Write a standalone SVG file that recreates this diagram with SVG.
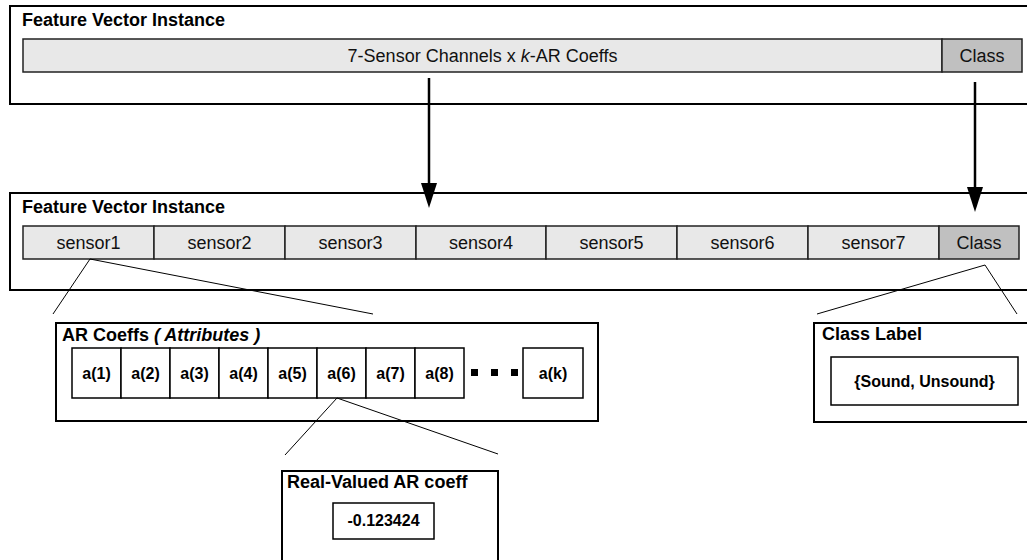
<svg xmlns="http://www.w3.org/2000/svg" width="1027" height="560" viewBox="0 0 1027 560">
<style>
.frame{fill:#fff;stroke:#000;stroke-width:2}
.bar{fill:#e8e8e8;stroke:#222;stroke-width:1.5}
.cls{fill:#c0c0c0;stroke:#222;stroke-width:1.5}
.cell{fill:#fff;stroke:#000;stroke-width:1.5}
.title{font-family:"Liberation Sans",Arial,sans-serif;font-size:18px;font-weight:bold;fill:#000}
.lbl{font-family:"Liberation Sans",Arial,sans-serif;font-size:18px;fill:#111;text-anchor:middle}
.blbl{font-family:"Liberation Sans",Arial,sans-serif;font-size:16px;font-weight:bold;fill:#000;text-anchor:middle}
.thin{stroke:#000;stroke-width:1;fill:none}
.arrow{stroke:#000;stroke-width:2.5;fill:none;marker-end:url(#head)}
</style>
<defs>
<marker id="head" viewBox="0 0 25 16" refX="0" refY="8" markerWidth="25" markerHeight="16" markerUnits="userSpaceOnUse" orient="auto">
<path d="M0,0 L25,8 L0,16 Z" fill="#000"/>
</marker>
</defs>

<g id="top-instance">
<rect class="frame" x="10" y="6" width="1030" height="98"/>
<text class="title" x="22" y="26">Feature Vector Instance</text>
<rect class="bar" x="23" y="39" width="919" height="33"/>
<text class="lbl" x="482.5" y="62">7-Sensor Channels x <tspan font-style="italic">k</tspan>-AR Coeffs</text>
<rect class="cls" x="942" y="39" width="80" height="33"/>
<text class="lbl" x="982" y="62">Class</text>
</g>

<g id="bottom-instance">
<rect class="frame" x="10" y="193" width="1030" height="97"/>
<text class="title" x="22" y="213">Feature Vector Instance</text>
<rect class="bar" x="23" y="226" width="131" height="33"/>
<text class="lbl" x="88.5" y="249">sensor1</text>
<rect class="bar" x="154" y="226" width="131" height="33"/>
<text class="lbl" x="219.5" y="249">sensor2</text>
<rect class="bar" x="285" y="226" width="131" height="33"/>
<text class="lbl" x="350.5" y="249">sensor3</text>
<rect class="bar" x="416" y="226" width="130" height="33"/>
<text class="lbl" x="481" y="249">sensor4</text>
<rect class="bar" x="546" y="226" width="131" height="33"/>
<text class="lbl" x="611.5" y="249">sensor5</text>
<rect class="bar" x="677" y="226" width="131" height="33"/>
<text class="lbl" x="742.5" y="249">sensor6</text>
<rect class="bar" x="808" y="226" width="131" height="33"/>
<text class="lbl" x="873.5" y="249">sensor7</text>
<rect class="cls" x="939" y="226" width="80" height="33"/>
<text class="lbl" x="979" y="249">Class</text>
</g>

<g id="ar-coeffs">
<rect class="frame" x="56" y="323" width="542" height="98"/>
<text class="title" x="62" y="341">AR Coeffs <tspan font-style="italic">( Attributes )</tspan></text>
<rect class="cell" x="72" y="348" width="49" height="50"/>
<text class="blbl" x="96.5" y="379">a(1)</text>
<rect class="cell" x="121" y="348" width="49" height="50"/>
<text class="blbl" x="145.5" y="379">a(2)</text>
<rect class="cell" x="170" y="348" width="49" height="50"/>
<text class="blbl" x="194.5" y="379">a(3)</text>
<rect class="cell" x="219" y="348" width="49" height="50"/>
<text class="blbl" x="243.5" y="379">a(4)</text>
<rect class="cell" x="268" y="348" width="49" height="50"/>
<text class="blbl" x="292.5" y="379">a(5)</text>
<rect class="cell" x="317" y="348" width="49" height="50"/>
<text class="blbl" x="341.5" y="379">a(6)</text>
<rect class="cell" x="366" y="348" width="49" height="50"/>
<text class="blbl" x="390.5" y="379">a(7)</text>
<rect class="cell" x="415" y="348" width="49" height="50"/>
<text class="blbl" x="439.5" y="379">a(8)</text>
<rect x="471" y="369" width="7" height="7" fill="#000"/>
<rect x="491" y="369" width="7" height="7" fill="#000"/>
<rect x="511" y="369" width="7" height="7" fill="#000"/>
<rect class="cell" x="523" y="348" width="60" height="50"/>
<text class="blbl" x="553" y="379">a(k)</text>
</g>

<g id="class-label">
<rect class="frame" x="814" y="323" width="230" height="99"/>
<text class="title" x="822" y="340">Class Label</text>
<rect class="cell" x="831" y="357" width="187" height="48"/>
<text class="blbl" x="924.5" y="387">{Sound, Unsound}</text>
</g>

<g id="real-valued">
<rect class="frame" x="282" y="471" width="216" height="100"/>
<text class="title" x="287" y="488">Real-Valued AR coeff</text>
<rect class="cell" x="333" y="503" width="101" height="36"/>
<text class="blbl" x="383.5" y="526">-0.123424</text>
</g>

<g id="connectors">
<line class="arrow" x1="429" y1="78" x2="429" y2="183"/>
<line class="arrow" x1="975" y1="82" x2="975" y2="187"/>
<line class="thin" x1="90" y1="259" x2="53" y2="314"/>
<line class="thin" x1="90" y1="259" x2="373" y2="314"/>
<line class="thin" x1="985" y1="265" x2="817" y2="314"/>
<line class="thin" x1="985" y1="265" x2="1017" y2="314"/>
<line class="thin" x1="337" y1="398" x2="285" y2="455"/>
<line class="thin" x1="337" y1="398" x2="498" y2="454"/>
</g>
</svg>
